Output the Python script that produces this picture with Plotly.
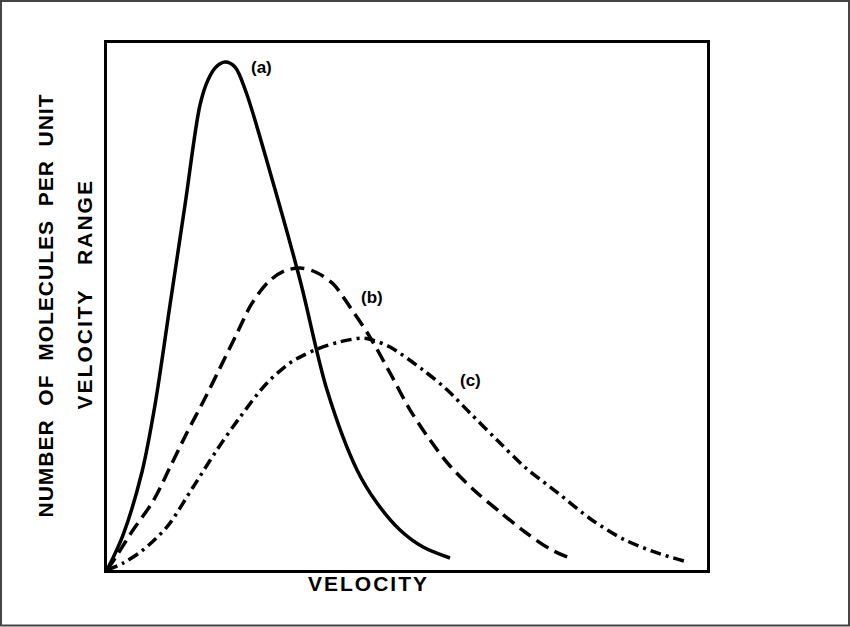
import plotly.graph_objects as go

# Curve (a) - solid
a_x = [0, 2.67, 5.83, 8.0, 10.5, 13.0, 15.5, 16.83, 18.17, 19.67, 21.33, 23.17,
       27.17, 32.17, 36.67, 41.67, 45.0, 48.83, 52.67, 57.17]
a_y = [0, 6.64, 18.6, 31.31, 50.28, 69.26, 88.24, 92.98, 95.45, 96.39, 95.45, 90.7,
       75.52, 55.03, 34.16, 18.98, 12.71, 7.59, 4.36, 2.28]

# Curve (b) - dashed
b_x = [0, 1.5, 4.0, 7.8, 10.5, 13.3, 16.2, 18.9, 21.7, 24.0, 26.83, 29.5, 32.17,
       34.83, 37.67, 40.5, 43.83, 47.17, 50.5, 53.83, 57.17, 61.33, 65.5, 69.67, 73.83, 77.5]
b_y = [0, 2.5, 7.0, 13.3, 19.5, 26.0, 32.3, 38.5, 45.0, 50.3, 54.6, 56.7, 57.3,
       56.5, 54.3, 49.9, 44.2, 37.4, 30.4, 24.67, 19.73, 14.99, 11.0, 7.21, 3.98, 2.09]

# Curve (c) - dash-dot
c_x = [0, 2.67, 6.0, 10.0, 14.33, 18.33, 22.17, 26.67, 30.5, 32.17, 35.0, 38.83, 42.67,
       44.33, 47.17, 52.67, 56.67, 60.5, 65.0, 69.67, 75.17, 80.83, 86.33, 91.83, 96.83]
c_y = [0, 1.3, 3.8, 8.2, 15.7, 22.8, 29.0, 35.5, 39.3, 40.4, 41.9, 43.3, 44.0,
       43.6, 42.3, 37.95, 34.2, 29.8, 24.67, 19.5, 14.6, 9.5, 5.7, 3.2, 1.5]

curve_labels = ["(a)", "(b)", "(c)"]
label_x = [25.8, 44.2, 60.5]
label_y = [95.4, 51.8, 35.9]

x_title = "VELOCITY"
y_title_1 = "NUMBER\u00a0\u00a0OF\u00a0\u00a0MOLECULES\u00a0\u00a0PER\u00a0\u00a0UNIT"
y_title_2 = "VELOCITY\u00a0\u00a0\u00a0RANGE"

FONT = "Liberation Sans, Arial, sans-serif"

fig = go.Figure()
fig.add_trace(go.Scatter(x=a_x, y=a_y, mode="lines",
                         line=dict(color="black", width=3.5, shape="spline", smoothing=0.9),
                         hoverinfo="skip"))
fig.add_trace(go.Scatter(x=b_x, y=b_y, mode="lines",
                         line=dict(color="black", width=3.5, dash="14px,7px", shape="spline", smoothing=0.9),
                         hoverinfo="skip"))
fig.add_trace(go.Scatter(x=c_x, y=c_y, mode="lines",
                         line=dict(color="black", width=3.5, dash="11px,5px,3px,5px", shape="spline", smoothing=0.9),
                         hoverinfo="skip"))

for t, lx, ly in zip(curve_labels, label_x, label_y):
    fig.add_annotation(x=lx, y=ly, xref="x", yref="y", text="<b>" + t + "</b>", showarrow=False,
                       font=dict(family=FONT, size=17, color="black"))

fig.add_annotation(x=0.435, y=-0.0512, xref="paper", yref="paper",
                   text='<b><span style="letter-spacing:2px">' + x_title + '</span></b>',
                   showarrow=False, font=dict(family=FONT, size=21, color="black"))
fig.add_annotation(x=-0.125, y=0.501, xref="paper", yref="paper", textangle=-90,
                   text='<b><span style="letter-spacing:1px">' + y_title_1 + '</span></b>',
                   showarrow=False, font=dict(family=FONT, size=21, color="black"))
fig.add_annotation(x=-0.06, y=0.522, xref="paper", yref="paper", textangle=-90,
                   text='<b><span style="letter-spacing:2px">' + y_title_2 + '</span></b>',
                   showarrow=False, font=dict(family=FONT, size=21, color="black"))

# outer frame of the figure
fig.add_shape(type="rect", xref="paper", yref="paper",
              x0=-0.1767, x1=1.2367, y0=-0.1053, y1=1.0797,
              line=dict(color="#444444", width=2), fillcolor="rgba(0,0,0,0)")

fig.update_xaxes(range=[0, 100], showline=True, mirror=True, linecolor="black", linewidth=3,
                 showgrid=False, zeroline=False, showticklabels=False, ticks="")
fig.update_yaxes(range=[0, 100], showline=True, mirror=True, linecolor="black", linewidth=3,
                 showgrid=False, zeroline=False, showticklabels=False, ticks="")

fig.update_layout(width=850, height=627, margin=dict(l=107, r=143, t=43, b=57),
                  paper_bgcolor="white", plot_bgcolor="white", showlegend=False)

fig.write_html("out.html", config={"displayModeBar": False},
               post_script="document.body.style.margin='0';document.body.style.padding='0';"
                           "document.body.style.overflow='hidden';")
